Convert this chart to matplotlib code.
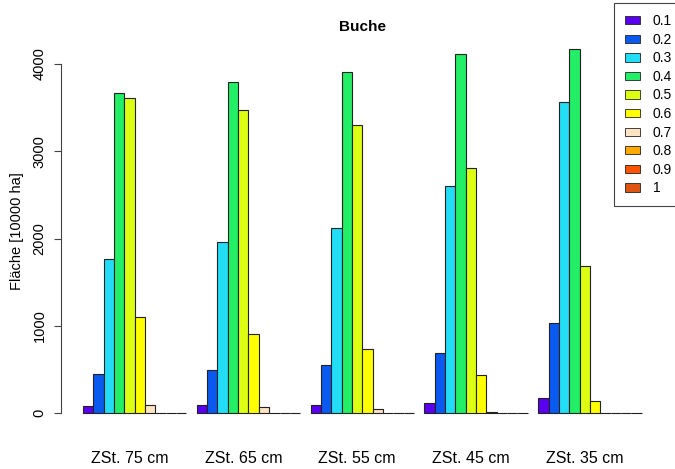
import numpy as np
import matplotlib.pyplot as plt
from matplotlib.patches import Patch

plt.rcParams['font.family'] = ['Liberation Sans', 'DejaVu Sans']

groups = ["ZSt. 75 cm", "ZSt. 65 cm", "ZSt. 55 cm", "ZSt. 45 cm", "ZSt. 35 cm"]
classes = ["0.1", "0.2", "0.3", "0.4", "0.5", "0.6", "0.7", "0.8", "0.9", "1"]
colors = ["#5A00F0", "#0A5AF0", "#22DDF5", "#22EE66", "#DDFF11",
          "#FFFF00", "#FFE4C4", "#FFAA00", "#FF5500", "#DD5511"]

# rows: groups, columns: classes 0.1 .. 1
flaeche = np.array([
    [80, 447, 1765, 3668, 3610, 1100, 92, 0, 0, 0],
    [90, 493, 1960, 3794, 3473, 905, 69, 0, 0, 0],
    [95, 550, 2120, 3908, 3300, 733, 45, 0, 0, 0],
    [115, 688, 2600, 4115, 2808, 435, 15, 0, 0, 0],
    [172, 1030, 3565, 4172, 1685, 135, 5, 0, 0, 0],
])

W, H = 675, 469
fig = plt.figure(figsize=(W / 100, H / 100), dpi=100)
ax = fig.add_axes([60.6 / W, 1 - 427.6 / H, (664 - 60.6) / W, (427.6 - 34.4) / H])

ng, nc = flaeche.shape
for g in range(ng):
    for j in range(nc):
        ax.bar(1 + g * (nc + 1) + j, flaeche[g, j], width=1, align='edge',
               color=colors[j], edgecolor='#222222', linewidth=0.8)

xmax = ng * (nc + 1)
pad = 0.04 * (xmax - 1)
ax.set_xlim(1 - pad, xmax + pad)
ymax = flaeche.max()
ax.set_ylim(-0.04 * ymax, ymax * 1.04)

for s in ['top', 'right', 'bottom']:
    ax.spines[s].set_visible(False)
ax.spines['left'].set_bounds(0, 4000)
ax.spines['left'].set_color('#444444')
ax.set_xticks([])
ax.set_yticks([0, 1000, 2000, 3000, 4000])
ax.tick_params(axis='y', length=5, color='#444444', labelsize=10.5, pad=5)
for lab in ax.get_yticklabels():
    lab.set_rotation(90)
    lab.set_va('center')

for g, name in enumerate(groups):
    xc = 1 + g * (nc + 1) + nc / 2 - 0.5
    ax.text(xc, -520, name, ha='center', va='center', fontsize=11.5)

ax.set_ylabel("Fläche [10000 ha]", fontsize=10.5, labelpad=6)
ax.set_title("Buche", fontsize=11, fontweight='bold', pad=1)

handles = [Patch(facecolor=c, edgecolor='#222222', linewidth=0.6) for c in colors]
leg = fig.legend(handles, classes, loc='upper left',
                 bbox_to_anchor=(614 / W, 1 - 3 / H), fontsize=10,
                 handlelength=1.1, handleheight=0.55, labelspacing=0.33,
                 handletextpad=0.9, borderpad=0.8, borderaxespad=0,
                 fancybox=False, framealpha=1, edgecolor='#444444')
leg.get_frame().set_linewidth(0.8)

fig.savefig("out.png", dpi=100)
